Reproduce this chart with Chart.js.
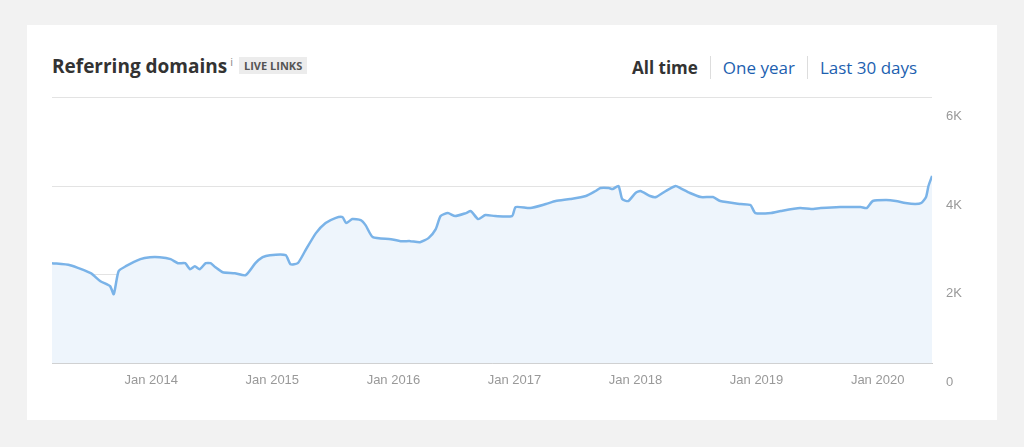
<!DOCTYPE html>
<html>
<head>
<meta charset="utf-8">
<script src="https://cdn.jsdelivr.net/npm/chart.js@4/dist/chart.umd.min.js"></script>
<style>
  body { margin: 0; background: #f2f2f2; font-family: "Open Sans", "Liberation Sans", sans-serif; }
  .card { position: absolute; left: 27px; top: 25px; width: 970px; height: 395px; background: #fff; }
  .title { position: absolute; left: 25px; top: 28px; font-size: 19px; font-weight: bold; color: #333; }
  .title sup { font-size: 11px; font-weight: normal; color: #888; margin-left: 3px; }
  .badge { display: inline-block; margin-left: 6px; padding: 1px 5px; background: #ececec; color: #555; font-size: 11px; font-weight: bold; vertical-align: 3px; }
  .tabs { position: absolute; left: 605px; top: 31px; font-size: 17px; }
  .tabs span { padding: 0 12px; border-left: 1px solid #ddd; color: #1d5fb0; }
  .tabs span:first-child { border-left: none; color: #333; font-weight: bold; padding-left: 0; }
  .wrap { position: absolute; left: 25px; top: 51px; width: 924px; height: 315px; }
</style>
</head>
<body>
<div class="card">
  <div class="title">Referring domains<sup>i</sup><span class="badge">LIVE LINKS</span></div>
  <div class="tabs"><span>All time</span><span>One year</span><span>Last 30 days</span></div>
  <div class="wrap"><canvas id="graficoDominios"></canvas></div>
</div>
<script>
// ======== DADOS =========
const anos = [2013.18,2013.33,2013.50,2013.58,2013.66,2013.69,2013.73,2013.79,2013.91,2013.99,2014.07,2014.16,2014.22,2014.28,2014.32,2014.36,2014.40,2014.45,2014.49,2014.53,2014.59,2014.69,2014.78,2014.86,2014.92,2014.98,2015.11,2015.15,2015.21,2015.27,2015.36,2015.44,2015.52,2015.58,2015.61,2015.66,2015.73,2015.77,2015.83,2015.98,2016.06,2016.14,2016.22,2016.29,2016.35,2016.39,2016.45,2016.51,2016.60,2016.64,2016.70,2016.76,2016.84,2016.98,2017.01,2017.13,2017.26,2017.34,2017.46,2017.59,2017.67,2017.71,2017.78,2017.81,2017.86,2017.89,2017.94,2018.00,2018.04,2018.12,2018.17,2018.25,2018.33,2018.37,2018.45,2018.54,2018.64,2018.70,2018.87,2018.95,2018.99,2019.12,2019.20,2019.36,2019.45,2019.53,2019.69,2019.86,2019.91,2019.96,2020.07,2020.15,2020.23,2020.31,2020.36,2020.40,2020.42,2020.45];
const dominios = [2264,2219,2038,1856,1743,1562,2083,2196,2355,2400,2400,2355,2264,2264,2128,2196,2128,2264,2264,2173,2060,2038,1992,2264,2400,2445,2445,2241,2264,2536,2943,3170,3283,3305,3170,3260,3238,3124,2853,2807,2762,2762,2739,2830,3034,3328,3396,3328,3396,3441,3260,3351,3328,3328,3532,3509,3600,3668,3713,3781,3894,3962,3962,3939,4007,3713,3668,3849,3894,3781,3758,3894,4007,3962,3849,3758,3758,3668,3600,3577,3396,3396,3441,3509,3487,3509,3532,3532,3509,3668,3690,3668,3622,3600,3622,3758,4007,4234];
const yTicks = [0, 2000, 4000, 6000];
const yLabels = ['0', '2K', '4K', '6K'];

// ======== GRÁFICO =========
const ctx = document.getElementById('graficoDominios');
new Chart(ctx, {
  type: 'line',
  data: {
    datasets: [{
      data: anos.map((a, i) => ({ x: a, y: dominios[i] })),
      borderColor: '#7ab3e8',
      backgroundColor: '#eef5fc',
      borderWidth: 2.5,
      pointRadius: 0,
      tension: 0.2,
      fill: 'origin'
    }]
  },
  options: {
    responsive: true,
    maintainAspectRatio: false,
    animation: false,
    layout: { padding: { left: 0, right: 0, top: 10 } },
    plugins: { legend: { display: false }, tooltip: { enabled: false } },
    scales: {
      x: {
        type: 'linear',
        min: 2013.18,
        max: 2020.45,
        afterBuildTicks: ax => { ax.ticks = [2014,2015,2016,2017,2018,2019,2020].map(v => ({ value: v })); },
        ticks: { callback: v => 'Jan ' + v, color: '#999', font: { size: 13 } },
        grid: { display: false, drawTicks: true, tickLength: 6 },
        border: { color: '#ccc' }
      },
      y: {
        position: 'right',
        min: 0,
        max: 6000,
        afterBuildTicks: ax => { ax.ticks = yTicks.map(v => ({ value: v })); },
        ticks: { callback: (v) => yLabels[yTicks.indexOf(v)], color: '#999', font: { size: 13 }, labelOffset: 19, padding: 14 },
        grid: { color: '#e3e3e3', drawTicks: false },
        border: { display: false }
      }
    }
  }
});
</script>
</body>
</html>
